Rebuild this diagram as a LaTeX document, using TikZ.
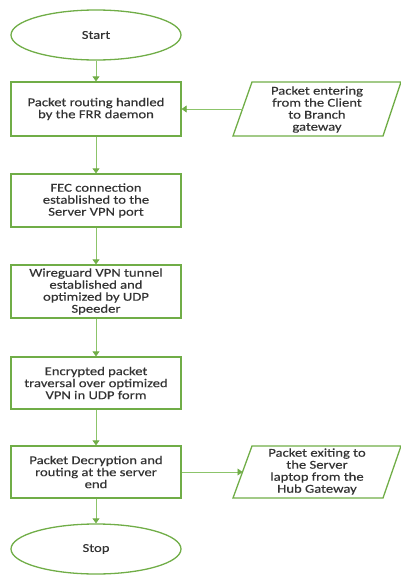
\documentclass[tikz,border=0pt]{standalone}
\usepackage{fontspec}
\setmainfont{Carlito}
\usetikzlibrary{arrows.meta,shapes.geometric}
\definecolor{fgreen}{HTML}{70AD47}
\definecolor{lgreen}{HTML}{8CC46A}
\begin{document}
\begin{tikzpicture}[x=1pt,y=-1pt,
  every node/.style={font=\fontsize{12}{12}\selectfont\addfontfeatures{FakeStretch=1.22,FakeBold=0.35}, text=black!80, align=center, inner sep=0pt},
  stepbox/.style={draw=fgreen, line width=1.3pt, minimum width=170pt, minimum height=53pt},
  term/.style={draw=fgreen, line width=1.3pt, ellipse, minimum width=170pt, minimum height=50pt},
  para/.style={draw=fgreen, line width=1.3pt, line join=miter},
  conn/.style={draw=lgreen, line width=0.8pt, -{Triangle[width=7pt,length=5pt,fill=fgreen,color=fgreen]}}
]
\useasboundingbox (0,0) rectangle (401,576);
\node[term] (start) at (96,35) {Start};
\node[stepbox, minimum height=54pt] (b1) at (96,109) {Packet routing handled\\by the FRR daemon};
\node[stepbox] (b2) at (96,200.5) {FEC connection\\established to the\\Server VPN port};
\node[stepbox] (b3) at (96,291.5) {Wireguard VPN tunnel\\established and\\optimized by UDP\\Speeder};
\node[stepbox, minimum height=52pt] (b4) at (96,383) {Encrypted packet\\traversal over optimized\\VPN in UDP form};
\node[stepbox, minimum height=52pt] (b5) at (96,472) {Packet Decryption and\\routing at the server\\end};
\node[term] (stop) at (96,549) {Stop};

\draw[para] (233,136) -- (252,82) -- (401,82) -- (383,136) -- cycle;
\node (p1) at (317,109.5) {Packet entering\\from the Client\\to Branch\\gateway};
\coordinate (p1w) at (242.5,109);
\draw[para] (233,498) -- (252,446) -- (401,446) -- (383,498) -- cycle;
\node (p2) at (317,471.5) {Packet exiting to\\the Server\\laptop from the\\Hub Gateway};
\coordinate (p2w) at (242.5,472);

\draw[conn] (start) -- (b1);
\draw[conn] (b1) -- (b2);
\draw[conn] (b2) -- (b3);
\draw[conn] (b3) -- (b4);
\draw[conn] (b4) -- (b5);
\draw[conn] (b5) -- (stop);
\draw[conn] (p1w) -- (b1.east);
\draw[conn] (b5.east) -- (p2w);
\end{tikzpicture}
\end{document}
